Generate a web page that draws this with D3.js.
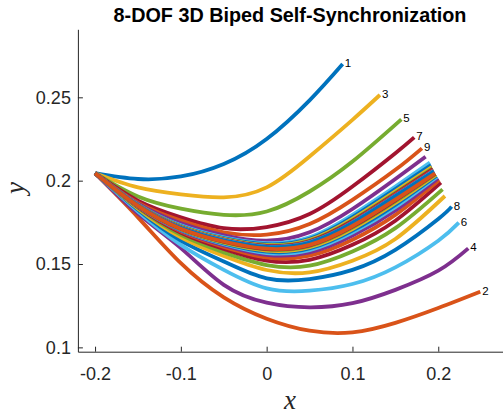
<!DOCTYPE html>
<html><head><meta charset="utf-8">
<script src="https://cdn.jsdelivr.net/npm/d3@7"></script>
<style>
html,body{margin:0;padding:0;background:#fff;}
svg{display:block;}
</style></head>
<body>
<svg id="chart" width="503" height="415"></svg>
<script>
// ---- data ----
const xGrid = [-0.2, -0.15, -0.1, -0.05, 0, 0.05, 0.1, 0.15, 0.2];
// y values of each trajectory at the xGrid columns (only while before its end)
const curveY = [
  [0.2045, 0.2010, 0.2025, 0.2100, 0.2250, 0.2482],                         // 1
  [0.2045, 0.1780, 0.1505, 0.1300, 0.1172, 0.1100, 0.1090, 0.1147, 0.1236], // 2
  [0.2045, 0.1960, 0.1918, 0.1900, 0.1960, 0.2145, 0.2365],                 // 3
  [0.2045, 0.1802, 0.1595, 0.1375, 0.1268, 0.1240, 0.1265, 0.1345, 0.1460], // 4
  [0.2045, 0.1905, 0.1832, 0.1795, 0.1815, 0.1935, 0.2115],                 // 5
  [0.2045, 0.1815, 0.1615, 0.1465, 0.1354, 0.1340, 0.1380, 0.1480, 0.1640], // 6
  [0.2045, 0.1880, 0.1780, 0.1715, 0.1722, 0.1800, 0.1965, 0.2165],         // 7
  [0.2045, 0.1825, 0.1640, 0.1515, 0.1414, 0.1410, 0.1465, 0.1585, 0.1770], // 8
  [0.2045, 0.1868, 0.1760, 0.1690, 0.1676, 0.1740, 0.1885, 0.2065],         // 9
  [0.2045, 0.1832, 0.1660, 0.1548, 0.1464, 0.1450, 0.1520, 0.1650],         // 10
  [0.2045, 0.1862, 0.1745, 0.1672, 0.1640, 0.1690, 0.1830, 0.2010],         // 11
  [0.2045, 0.1838, 0.1675, 0.1570, 0.1494, 0.1490, 0.1575, 0.1715],         // 12
  [0.2045, 0.1857, 0.1732, 0.1660, 0.1625, 0.1660, 0.1795, 0.1965],         // 13
  [0.2045, 0.1843, 0.1688, 0.1590, 0.1520, 0.1525, 0.1615, 0.1760],         // 14
  [0.2045, 0.1855, 0.1728, 0.1655, 0.1619, 0.1651, 0.1781, 0.1949],         // 15
  [0.2045, 0.1845, 0.1695, 0.1603, 0.1540, 0.1550, 0.1646, 0.1795],         // 16
  [0.2045, 0.1854, 0.1725, 0.1651, 0.1614, 0.1645, 0.1771, 0.1936],         // 17
  [0.2045, 0.1846, 0.1700, 0.1612, 0.1555, 0.1569, 0.1670, 0.1822],         // 18
  [0.2045, 0.1853, 0.1722, 0.1648, 0.1611, 0.1640, 0.1763, 0.1927],         // 19
  [0.2045, 0.1847, 0.1704, 0.1619, 0.1566, 0.1583, 0.1688, 0.1841],         // 20
  [0.2045, 0.1852, 0.1720, 0.1646, 0.1608, 0.1636, 0.1758, 0.1921],         // 21
  [0.2045, 0.1848, 0.1706, 0.1624, 0.1574, 0.1593, 0.1700, 0.1855],         // 22
  [0.2045, 0.1852, 0.1719, 0.1645, 0.1606, 0.1633, 0.1753, 0.1916],         // 23
  [0.2045, 0.1848, 0.1709, 0.1628, 0.1581, 0.1601, 0.1710, 0.1866],         // 24
  [0.2045, 0.1851, 0.1718, 0.1644, 0.1605, 0.1631, 0.1750, 0.1912],         // 25
  [0.2045, 0.1849, 0.1710, 0.1631, 0.1586, 0.1607, 0.1718, 0.1875],         // 26
  [0.2045, 0.1851, 0.1717, 0.1643, 0.1603, 0.1630, 0.1747, 0.1908],         // 27
  [0.2045, 0.1849, 0.1711, 0.1634, 0.1590, 0.1612, 0.1724, 0.1882],         // 28
  [0.2045, 0.1851, 0.1717, 0.1642, 0.1603, 0.1629, 0.1746, 0.1907],         // 29
  [0.2045, 0.1849, 0.1712, 0.1635, 0.1592, 0.1615, 0.1728, 0.1886]          // 30
];
const endX = [0.0886, 0.2490, 0.1320, 0.2350, 0.1570, 0.2240, 0.1720, 0.2156, 0.1810, 0.2078,
              0.1853, 0.2050, 0.1903, 0.2031, 0.1916, 0.2012, 0.1926, 0.1998, 0.1933, 0.1987,
              0.1938, 0.1979, 0.1943, 0.1973, 0.1946, 0.1969, 0.1948, 0.1965, 0.1950, 0.1963];
const endY = [0.2700, 0.1334, 0.2514, 0.1594, 0.2368, 0.1748, 0.2260, 0.1844, 0.2194, 0.1908,
              0.2144, 0.1948, 0.2108, 0.1988, 0.2094, 0.2004, 0.2082, 0.2015, 0.2074, 0.2024,
              0.2069, 0.2030, 0.2064, 0.2035, 0.2060, 0.2039, 0.2058, 0.2042, 0.2056, 0.2044];
const curveLabels = ["1", "2", "3", "4", "5", "6", "7", "8", "9"];
const palette = ["#0072BD", "#D95319", "#EDB120", "#7E2F8E", "#77AC30", "#4DBEEE", "#A2142F"];
const xTicks = [-0.2, -0.1, 0, 0.1, 0.2];
const xTickLabels = ["-0.2", "-0.1", "0", "0.1", "0.2"];
const yTicks = [0.1, 0.15, 0.2, 0.25];
const yTickLabels = ["0.1", "0.15", "0.2", "0.25"];
const titleText = "8-DOF 3D Biped Self-Synchronization";

// ---- drawing ----
const svg = d3.select("#chart");
const x = d3.scaleLinear().domain([-0.22, 0.275]).range([77.9, 502.6]);
const y = d3.scaleLinear().domain([0.0974, 0.2908]).range([351.7, 29.3]);
const axisColor = "#262626";
const font = "'Liberation Sans', Arial, Helvetica, sans-serif";

const line = d3.line().x(d => x(d[0])).y(d => y(d[1])).curve(d3.curveNatural);

const curves = curveY.map((ys, i) => {
  const pts = ys.map((v, j) => [xGrid[j], v]);
  pts.push([endX[i], endY[i]]);
  return pts;
});

const plot = svg.append("g");
plot.selectAll("path.traj").data(curves).join("path")
  .attr("class", "traj")
  .attr("d", line)
  .attr("fill", "none")
  .attr("stroke", (d, i) => palette[i % palette.length])
  .attr("stroke-width", 3.8)
  .attr("stroke-linecap", "butt")
  .attr("stroke-linejoin", "round");

svg.append("g").selectAll("text").data(curveLabels).join("text")
  .attr("x", (d, i) => x(endX[i]) + 2)
  .attr("y", (d, i) => y(endY[i]) + 3)
  .attr("font-family", font)
  .attr("font-size", 11.5)
  .attr("fill", "#000")
  .text(d => d);

// axes
const xAxis = d3.axisBottom(x).tickValues(xTicks).tickFormat((d, i) => xTickLabels[i])
  .tickSizeInner(-5).tickSizeOuter(0).tickPadding(16);
const gx = svg.append("g").attr("transform", `translate(0,${y.range()[0]})`).call(xAxis);
const yAxis = d3.axisLeft(y).tickValues(yTicks).tickFormat((d, i) => yTickLabels[i])
  .tickSizeInner(-5).tickSizeOuter(0).tickPadding(7);
const gy = svg.append("g").attr("transform", `translate(${x.range()[0]},0)`).call(yAxis);
[gx, gy].forEach(g => {
  g.select(".domain").attr("stroke", axisColor).attr("stroke-width", 1);
  g.selectAll(".tick line").attr("stroke", axisColor);
  g.selectAll(".tick text").attr("fill", axisColor).attr("font-family", font).attr("font-size", 18);
});

svg.append("text").attr("x", 290).attr("y", 22).attr("text-anchor", "middle")
  .attr("font-family", font).attr("font-weight", "bold").attr("font-size", 19.8)
  .attr("fill", "#000").text(titleText);

svg.append("text").attr("x", 290).attr("y", 409).attr("text-anchor", "middle")
  .attr("font-family", "'Liberation Serif', 'DejaVu Serif', serif").attr("font-style", "italic")
  .attr("font-size", 27).attr("fill", axisColor).text("x");

svg.append("text").attr("transform", "translate(24,188) rotate(-90)").attr("text-anchor", "middle")
  .attr("font-family", "'Liberation Serif', 'DejaVu Serif', serif").attr("font-style", "italic")
  .attr("font-size", 27).attr("fill", axisColor).text("y");
</script>
</body></html>
